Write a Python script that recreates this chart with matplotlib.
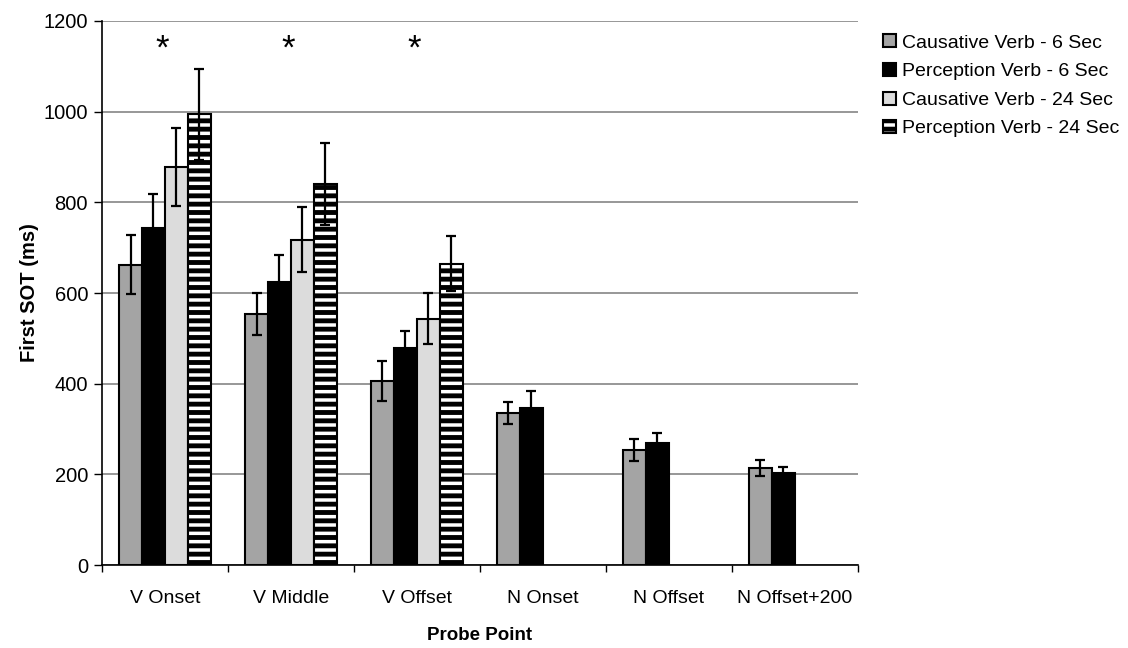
import numpy as np
import matplotlib
matplotlib.use('Agg')
import matplotlib.pyplot as plt

plt.rcParams['font.family'] = ['Liberation Sans', 'DejaVu Sans']
plt.rcParams['hatch.linewidth'] = 3.5

# Données
categories = ['V Onset', 'V Middle', 'V Offset', 'N Onset', 'N Offset', 'N Offset+200']
series = ['Causative Verb - 6 Sec', 'Perception Verb - 6 Sec',
          'Causative Verb - 24 Sec', 'Perception Verb - 24 Sec']
causative_6 = [662, 554, 406, 335, 253, 214]
perception_6 = [744, 625, 479, 346, 269, 203]
causative_24 = [879, 718, 543, np.nan, np.nan, np.nan]
perception_24 = [994, 841, 665, np.nan, np.nan, np.nan]
err_causative_6 = [65, 46, 45, 24, 24, 17]
err_perception_6 = [75, 58, 38, 38, 23, 14]
err_causative_24 = [86, 71, 56, np.nan, np.nan, np.nan]
err_perception_24 = [100, 91, 61, np.nan, np.nan, np.nan]
significant = ['V Onset', 'V Middle', 'V Offset']

values = [causative_6, perception_6, causative_24, perception_24]
errors = [err_causative_6, err_perception_6, err_causative_24, err_perception_24]
faces = ['#a4a4a4', 'black', '#dcdcdc', 'white']
hatches = [None, None, None, '--']

fig = plt.figure(figsize=(11.28, 6.48), dpi=100)
ax = fig.add_axes([0.0904, 0.128, 0.670, 0.8396])

x = np.arange(len(categories))
w = 0.182
handles = []
for i in range(4):
    pos = x + (i - 1.5) * w
    b = ax.bar(pos, values[i], width=w, color=faces[i], edgecolor='black',
               linewidth=1.5, hatch=hatches[i], zorder=3, label=series[i])
    handles.append(b)
    ax.errorbar(pos, values[i], yerr=errors[i], fmt='none', ecolor='black',
                elinewidth=1.6, capsize=3.6, capthick=1.6, zorder=4)

# astérisques de significativité
for c in significant:
    k = categories.index(c)
    ax.text(k - 0.02, 1138, '*', ha='center', va='center', fontsize=25)

ax.set_xlim(-0.5, len(categories) - 0.5)
ax.set_ylim(0, 1200)
ax.set_yticks(range(0, 1201, 200))
ax.set_xticks(x)
ax.set_xticklabels(categories, fontsize=14)
ax.set_xticks(np.arange(-0.5, len(categories), 1), minor=True)
ax.tick_params(axis='x', which='major', length=0, pad=18)
ax.tick_params(axis='x', which='minor', length=5, width=1, direction='out')
ax.tick_params(axis='y', length=6, width=1, direction='out', labelsize=14.5, pad=4)
ax.yaxis.grid(True, color='#7a7a7a', linewidth=1.1, zorder=0)
ax.set_axisbelow(True)
for s in ['top', 'right']:
    ax.spines[s].set_visible(False)
ax.spines['left'].set_linewidth(1.2)
ax.spines['bottom'].set_linewidth(1.2)

ax.set_ylabel('First SOT (ms)', fontsize=14.5, fontweight='bold', labelpad=3)
ax.set_xlabel('Probe Point', fontsize=13.5, fontweight='bold', labelpad=14)

fig.legend(handles=handles, labels=series, loc='upper left',
           bbox_to_anchor=(0.776, 0.959), frameon=False, fontsize=14,
           handlelength=0.65, handleheight=0.65, handletextpad=0.3,
           labelspacing=0.58, borderaxespad=0)

fig.savefig('out.png', dpi=100)
